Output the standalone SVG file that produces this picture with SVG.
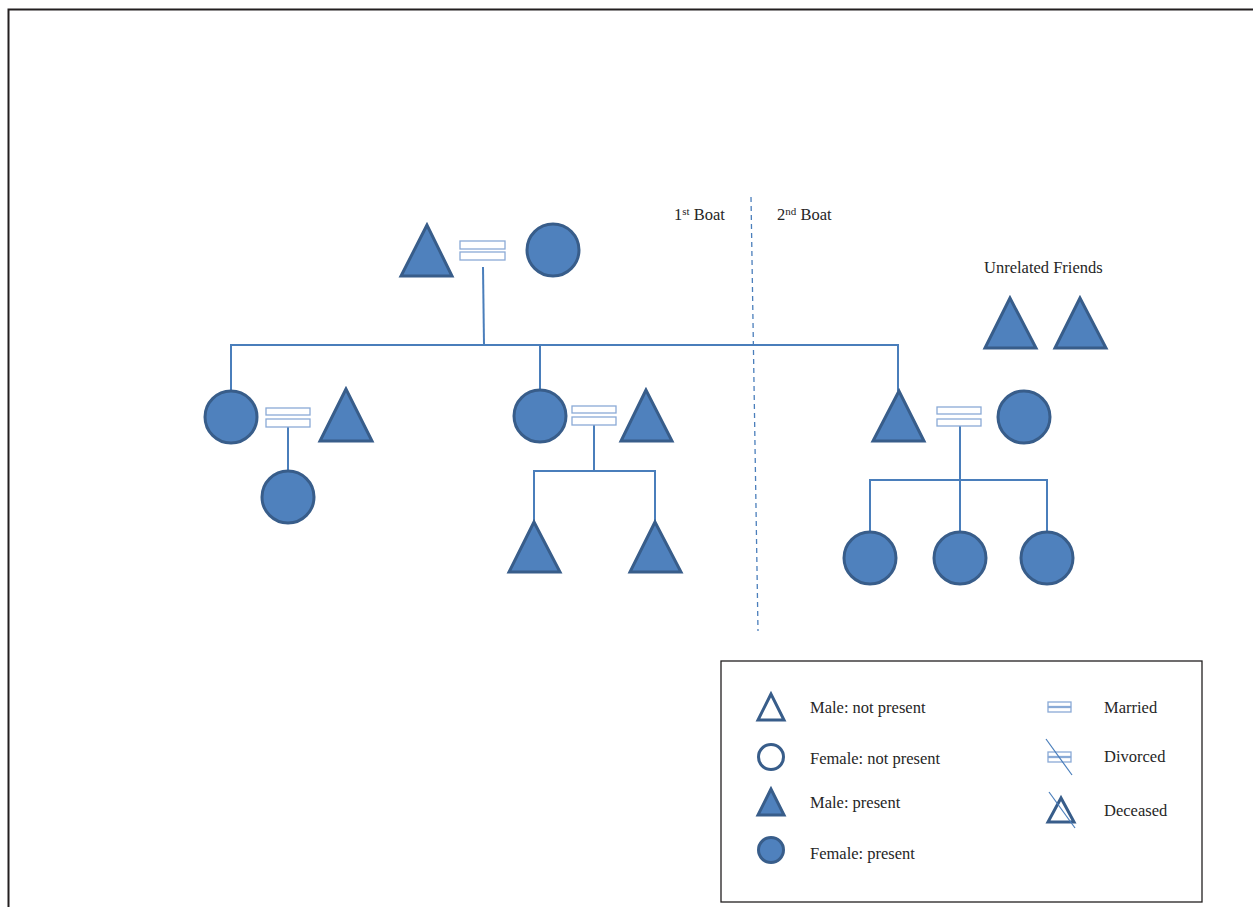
<svg xmlns="http://www.w3.org/2000/svg" width="1253" height="907" viewBox="0 0 1253 907">
<style>
.m{fill:#4f81bd;stroke:#385d8a;stroke-width:3;stroke-linejoin:miter}
.o{fill:#ffffff;stroke:#385d8a;stroke-width:3}
.mar{fill:#ffffff;stroke:#8aaad6;stroke-width:1.3}
.ln{stroke:#4a7ebb;stroke-width:2;fill:none}
.t{font-family:"Liberation Serif","Times New Roman",serif;font-size:16.5px;fill:#262626}
</style>
<rect width="1253" height="907" fill="#ffffff"/>
<path d="M8.5 907 V9.5 H1253" fill="none" stroke="#231f20" stroke-width="2"/>
<g id="connectors">
<line class="ln" x1="483" y1="267" x2="484" y2="345"/>
<line class="ln" x1="230" y1="345" x2="899" y2="345"/>
<line class="ln" x1="231" y1="345" x2="231" y2="391"/>
<line class="ln" x1="540" y1="345" x2="540" y2="390"/>
<line class="ln" x1="898" y1="345" x2="898" y2="391"/>
<line class="ln" x1="288" y1="427" x2="288" y2="471"/>
<polyline class="ln" points="534,522 534,471 655,471 655,522"/>
<line class="ln" x1="594" y1="425" x2="594" y2="471"/>
<polyline class="ln" points="870,532 870,480 1047,480 1047,532"/>
<line class="ln" x1="960" y1="426" x2="960" y2="532"/>
<line x1="751" y1="197" x2="758" y2="631" stroke="#4a7ebb" stroke-width="1.3" stroke-dasharray="5,4"/>
</g>
<g id="grandfather"><polygon class="m" points="427,225 401,276 452,276"/></g>
<g id="grandparents-married"><rect class="mar" x="460" y="241" width="45" height="8"/><rect class="mar" x="460" y="252" width="45" height="8"/></g>
<g id="grandmother"><circle class="m" cx="553" cy="250" r="26"/></g>

<g id="daughter1"><circle class="m" cx="231" cy="417" r="26"/></g>
<g id="d1-married"><rect class="mar" x="266" y="408" width="44" height="7"/><rect class="mar" x="266" y="419" width="44" height="8"/></g>
<g id="d1-husband"><polygon class="m" points="346,389 320,441 372,441"/></g>
<g id="d1-child"><circle class="m" cx="288" cy="497" r="26"/></g>

<g id="daughter2"><circle class="m" cx="540" cy="416" r="26"/></g>
<g id="d2-married"><rect class="mar" x="572" y="406" width="44" height="7"/><rect class="mar" x="572" y="417" width="44" height="8"/></g>
<g id="d2-husband"><polygon class="m" points="646,390 621,441 672,441"/></g>
<g id="d2-son1"><polygon class="m" points="534,522 509,572 560,572"/></g>
<g id="d2-son2"><polygon class="m" points="655,522 630,572 681,572"/></g>

<g id="son"><polygon class="m" points="899,391 873,441 924,441"/></g>
<g id="son-married"><rect class="mar" x="937" y="407" width="44" height="7"/><rect class="mar" x="937" y="419" width="44" height="7"/></g>
<g id="son-wife"><circle class="m" cx="1024" cy="417" r="26"/></g>
<g id="s-child1"><circle class="m" cx="870" cy="558" r="26"/></g>
<g id="s-child2"><circle class="m" cx="960" cy="558" r="26"/></g>
<g id="s-child3"><circle class="m" cx="1047" cy="558" r="26"/></g>

<g id="labels">
<text class="t" x="674" y="220">1<tspan font-size="11" dy="-5">st</tspan><tspan dy="5"> Boat</tspan></text>
<text class="t" x="777" y="220">2<tspan font-size="11" dy="-5">nd</tspan><tspan dy="5"> Boat</tspan></text>
<text class="t" x="984" y="273">Unrelated Friends</text>
</g>
<g id="friend1"><polygon class="m" points="1010,298 985,348 1036,348"/></g>
<g id="friend2"><polygon class="m" points="1080,298 1055,348 1106,348"/></g>

<g id="legend">
<rect x="721" y="661" width="481" height="241" fill="#ffffff" stroke="#231f20" stroke-width="1.3"/>
<polygon class="o" points="771,694 758,720 784,720"/>
<text class="t" x="810" y="713">Male: not present</text>
<circle class="o" cx="771" cy="757" r="12.5"/>
<text class="t" x="810" y="764">Female: not present</text>
<polygon class="m" points="771,789 758,815 784,815"/>
<text class="t" x="810" y="808">Male: present</text>
<circle class="m" cx="771" cy="850" r="12.5"/>
<text class="t" x="810" y="859">Female: present</text>
<rect class="mar" x="1048" y="702" width="23" height="4.5"/><rect class="mar" x="1048" y="707.5" width="23" height="4.5"/>
<text class="t" x="1104" y="713">Married</text>
<rect class="mar" x="1048" y="752" width="23" height="4.5"/><rect class="mar" x="1048" y="757.5" width="23" height="4.5"/>
<line x1="1046" y1="739" x2="1072" y2="775" stroke="#4a7ebb" stroke-width="1.2"/>
<text class="t" x="1104" y="762">Divorced</text>
<polygon class="o" points="1061,798 1048,822 1074,822"/>
<line x1="1049" y1="792" x2="1075" y2="828" stroke="#4a7ebb" stroke-width="1.2"/>
<text class="t" x="1104" y="816">Deceased</text>
</g>
</svg>
